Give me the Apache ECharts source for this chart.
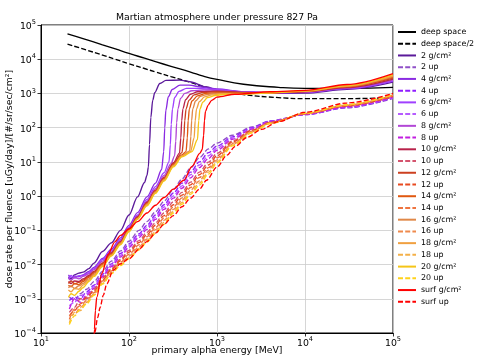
<!DOCTYPE html>
<html>
<head>
<meta charset="utf-8">
<title>Martian atmosphere under pressure 827 Pa</title>
<script src="https://cdn.jsdelivr.net/npm/echarts/dist/echarts.min.js"></script>
<style>
html,body{margin:0;padding:0;background:#fff;}
#main{width:481px;height:358px;}
</style>
</head>
<body>
<div id="main"></div>
<script>
// tick exponents (labels are drawn as 10^n)
var xTickExp = [1, 2, 3, 4, 5];
var yTickExp = [-4, -3, -2, -1, 0, 1, 2, 3, 4, 5];

// black reference curves [MeV, dose]
var deepSpace = [[20,5.5e4],[30,4.0e4],[50,2.63e4],[70,2.0e4],[100,1.48e4],[150,1.07e4],[200,8.5e3],[300,6.2e3],
  [500,4.2e3],[700,3.2e3],[1000,2.57e3],[2000,1.86e3],[5000,1.51e3],[10000,1.41e3],[30000,1.41e3],[100000,1.51e3]];
var deepSpaceHalf = [[20,2.75e4],[30,2.0e4],[50,1.32e4],[70,1.0e4],[100,7.4e3],[150,5.35e3],[200,4.25e3],[300,3.1e3],
  [500,2.1e3],[700,1.6e3],[1000,1.29e3],[2000,930],[5000,755],[10000,705],[30000,705],[100000,755]];

// solid curves (g/cm2)
var g2 = [[20.5,4.4e-3],[22,3.8e-3],[24,5.0e-3],[27,5.6e-3],[30,6.0e-3],[35,7.6e-3],[40,1.1e-2],[50,2.4e-2],[63,4.3e-2],
  [80,0.1],[100,0.28],[125,0.95],[150,2.5],[160,4.0],[166,7.1],[171,32],[177,200],[186,630],[196,1050],[224,1950],
  [263,2400],[380,2450],[490,2200],[760,1550],[1000,1290],[2000,1100],[4000,1000],[10000,1020],[30000,1320],[100000,2140]];
var g4 = [[20.5,5.0e-3],[22,4.2e-3],[24,4.6e-3],[27,4.4e-3],[30,5.0e-3],[35,6.3e-3],[40,8.3e-3],[50,1.5e-2],[63,2.8e-2],
  [80,6.0e-2],[100,0.14],[125,0.33],[160,0.95],[200,2.4],[235,6.0],[248,20],[255,100],[262,320],[280,800],[310,1300],
  [380,1750],[480,1750],[700,1500],[1000,1350],[2000,1120],[4000,1050],[10000,1070],[30000,1380],[100000,2300]];
var g6 = [[20.5,3.8e-3],[22,4.8e-3],[24,4.0e-3],[27,4.7e-3],[30,4.8e-3],[35,5.8e-3],[40,7.6e-3],[50,1.4e-2],[63,2.5e-2],
  [80,5.4e-2],[100,0.126],[125,0.28],[160,0.8],[200,1.9],[250,4.8],[285,10],[295,32],[302,126],[312,355],[330,760],
  [370,1150],[450,1400],[600,1400],[1000,1300],[2000,1120],[4000,1050],[10000,1070],[30000,1400],[100000,2350]];
var g8 = [[20.5,4.0e-3],[22,3.5e-3],[24,4.2e-3],[27,3.8e-3],[30,4.5e-3],[35,5.4e-3],[40,7.1e-3],[50,1.26e-2],[63,2.3e-2],
  [80,5.0e-2],[100,0.117],[125,0.26],[160,0.71],[200,1.66],[250,4.0],[300,8.9],[330,15],[340,40],[348,140],[360,355],
  [385,710],[430,1000],[520,1200],[700,1260],[1000,1230],[2000,1100],[4000,1050],[10000,1100],[30000,1450],[100000,2450]];
var g10 = [[20.5,3.2e-3],[22,2.8e-3],[24,3.3e-3],[27,3.2e-3],[30,3.8e-3],[35,4.8e-3],[40,6.3e-3],[50,1.12e-2],[63,2.2e-2],
  [80,4.7e-2],[100,0.112],[125,0.25],[160,0.66],[200,1.5],[250,3.5],[320,9.5],[375,18],[388,50],[397,160],[410,355],
  [440,660],[500,950],[600,1120],[1000,1170],[2000,1070],[4000,1050],[10000,1120],[30000,1480],[100000,2630]];
var g12 = [[20.5,2.8e-3],[22,3.3e-3],[24,2.75e-3],[27,3.0e-3],[30,3.5e-3],[35,4.5e-3],[40,6.0e-3],[50,1.07e-2],[63,2.1e-2],
  [80,4.5e-2],[100,0.107],[125,0.24],[160,0.63],[200,1.45],[250,3.3],[320,8.9],[400,18.6],[420,50],[430,160],[445,355],
  [480,630],[550,910],[700,1070],[1000,1120],[2000,1050],[4000,1050],[10000,1150],[30000,1550],[100000,2800]];
var g14 = [[20.5,2.5e-3],[22,2.25e-3],[24,2.8e-3],[27,2.6e-3],[30,3.2e-3],[35,4.2e-3],[40,5.6e-3],[50,1.0e-2],[63,2.0e-2],
  [80,4.3e-2],[100,0.105],[125,0.23],[160,0.6],[200,1.38],[250,3.2],[320,8.3],[400,16],[445,20],[460,50],[470,160],
  [485,355],[520,600],[600,850],[750,1000],[1000,1050],[2000,1020],[4000,1050],[10000,1150],[30000,1580],[100000,3000]];
var g16 = [[20.5,2.1e-3],[22,2.4e-3],[24,2.0e-3],[27,2.4e-3],[30,2.8e-3],[35,3.8e-3],[40,5.2e-3],[50,9.5e-3],[63,1.9e-2],
  [80,4.2e-2],[100,0.1],[125,0.22],[160,0.58],[200,1.32],[250,3.0],[320,7.9],[400,15],[490,21],[505,56],[515,160],
  [530,355],[570,600],[650,830],[800,950],[1000,1000],[2000,1000],[4000,1050],[10000,1170],[30000,1620],[100000,3160]];
var g18 = [[20.5,1.8e-3],[22,1.6e-3],[24,2.0e-3],[27,1.9e-3],[30,2.5e-3],[35,3.5e-3],[40,4.8e-3],[50,9.1e-3],[63,1.8e-2],
  [80,4.0e-2],[100,9.5e-2],[125,0.22],[160,0.55],[200,1.26],[250,2.9],[320,7.6],[400,14.8],[500,20],[550,50],[565,160],
  [585,355],[630,575],[720,790],[880,910],[1100,980],[2000,980],[4000,1050],[10000,1170],[30000,1660],[100000,3300]];
var g20 = [[20.5,1.1e-3],[22,1.4e-3],[24,1.26e-3],[27,1.66e-3],[30,2.1e-3],[35,3.2e-3],[40,4.5e-3],[50,8.7e-3],[63,1.8e-2],
  [80,3.8e-2],[100,9.1e-2],[125,0.21],[160,0.52],[200,1.2],[250,2.75],[320,7.2],[400,14],[520,20],[600,45],[620,160],
  [640,355],[690,560],[780,760],[950,870],[1200,930],[2000,950],[4000,1050],[10000,1200],[30000,1700],[100000,3550]];
var surfG = [[39.5,3.2e-5],[40.5,1.3e-4],[41.5,4.5e-4],[43,1.1e-3],[49,5.4e-3],[58,2.0e-2],[69,4.6e-2],[80,7.1e-2],
  [100,0.11],[125,0.18],[160,0.32],[200,0.54],[250,0.91],[320,1.6],[420,2.9],[520,7.4],[640,18],[680,23],[705,60],
  [720,160],[740,300],[790,450],[870,630],[1000,780],[1600,950],[4000,1120],[10000,1230],[30000,1820],[100000,3800]];

// dashed curves (up), shared energies
var upEnergy = [21,24,28,33,40,50,63,80,100,130,160,200,250,320,400,500,630,800,1000,1500,2500,4000,10000,30000,100000];
var up2 = [1.12e-3,8.9e-4,1.41e-3,1.9e-3,3.16e-3,6.3e-3,1.26e-2,2.5e-2,4.8e-2,0.1,0.18,0.35,0.71,1.58,3.16,6.6,13.2,24,35.5,60,105,158,240,380,710];
var up4 = [8.9e-4,1.12e-3,1.0e-3,1.58e-3,2.5e-3,5.2e-3,1.05e-2,2.1e-2,4.0e-2,7.9e-2,0.14,0.28,0.56,1.23,2.4,5.0,10,18.6,29,54,100,155,240,390,740];
var up6 = [6.3e-4,7.9e-4,1.26e-3,1.41e-3,2.24e-3,4.8e-3,9.5e-3,1.86e-2,3.5e-2,7.1e-2,0.123,0.24,0.48,1.02,2.0,4.2,8.1,15.1,25,50,95,151,245,400,760];
var up8 = [5.0e-4,1.0e-3,7.9e-4,1.26e-3,2.0e-3,4.4e-3,8.7e-3,1.66e-2,3.16e-2,6.2e-2,0.107,0.21,0.41,0.87,1.7,3.4,6.8,12.6,21.9,46,91,148,245,410,780];
var up10 = [4.0e-4,5.6e-4,1.0e-3,1.0e-3,1.9e-3,4.0e-3,7.6e-3,1.41e-2,2.6e-2,5.0e-2,8.7e-2,0.166,0.32,0.68,1.29,2.57,5.0,9.8,17.8,41,85,145,250,425,810];
var up12 = [3.16e-4,4.5e-4,7.1e-4,1.12e-3,1.66e-3,3.5e-3,7.1e-3,1.29e-2,2.3e-2,4.4e-2,7.4e-2,0.141,0.27,0.56,1.07,2.14,4.2,8.1,15.1,38,83,141,257,437,830];
var up14 = [2.5e-4,5.0e-4,6.3e-4,8.9e-4,1.51e-3,3.3e-3,6.5e-3,1.17e-2,2.0e-2,3.8e-2,6.5e-2,0.12,0.23,0.48,0.89,1.78,3.5,6.8,13.2,35,79,138,257,447,870];
var up16 = [3.16e-4,3.5e-4,5.6e-4,7.9e-4,1.38e-3,3.0e-3,6.0e-3,1.07e-2,1.78e-2,3.3e-2,5.6e-2,0.105,0.195,0.41,0.76,1.48,2.8,5.75,11.5,33,76,135,263,457,890];
var up18 = [2.0e-4,4.0e-4,4.5e-4,7.9e-4,1.32e-3,2.8e-3,5.6e-3,1.0e-2,1.58e-2,2.95e-2,5.0e-2,9.1e-2,0.17,0.355,0.65,1.26,2.4,5.0,10.2,31,72,135,263,468,910];
var up20 = [1.78e-4,3.16e-4,5.0e-4,7.1e-4,1.26e-3,2.7e-3,5.4e-3,9.3e-3,1.48e-2,2.7e-2,4.5e-2,8.1e-2,0.15,0.32,0.58,1.12,2.1,4.4,9.3,29.5,71,132,263,468,930];
var surfUp = [[40.5,4.0e-5],[41,1.05e-4],[44,2.8e-4],[47,5.6e-4],[51,1.26e-3],[56,2.75e-3],[66,6.8e-3],[80,1.05e-2],
  [100,1.48e-2],[130,2.8e-2],[160,4.7e-2],[200,8.3e-2],[250,0.15],[320,0.27],[400,0.49],[500,0.87],[630,1.58],[760,2.9],
  [1000,7.1],[1300,15.8],[1600,28],[2200,52],[3200,89],[5000,151],[10000,282],[30000,525],[100000,1000]];

function zipUp(vals) {
  var out = [];
  for (var i = 0; i < upEnergy.length; i++) out.push([upEnergy[i], vals[i]]);
  return out;
}

// name, data, color, dashed
var curves = [
  ['deep space', deepSpace, '#000000', false],
  ['deep space/2', deepSpaceHalf, '#000000', true],
  ['2 g/cm²', g2, '#5b1a9a', false],
  ['2 up', zipUp(up2), '#9050c8', true],
  ['4 g/cm²', g4, '#8a2be2', false],
  ['4 up', zipUp(up4), '#8f1cff', true],
  ['6 g/cm²', g6, '#a040ff', false],
  ['6 up', zipUp(up6), '#b65cff', true],
  ['8 g/cm²', g8, '#b247d6', false],
  ['8 up', zipUp(up8), '#c21ee0', true],
  ['10 g/cm²', g10, '#b8224a', false],
  ['10 up', zipUp(up10), '#d4546e', true],
  ['12 g/cm²', g12, '#cc4020', false],
  ['12 up', zipUp(up12), '#e84a20', true],
  ['14 g/cm²', g14, '#e05810', false],
  ['14 up', zipUp(up14), '#ee7440', true],
  ['16 g/cm²', g16, '#e08848', false],
  ['16 up', zipUp(up16), '#ef8a4c', true],
  ['18 g/cm²', g18, '#f0a040', false],
  ['18 up', zipUp(up18), '#f4b048', true],
  ['20 g/cm²', g20, '#f5c518', false],
  ['20 up', zipUp(up20), '#ffd21a', true],
  ['surf g/cm²', surfG, '#ff0000', false],
  ['surf up', surfUp, '#ff0000', true]
];

var FONT = 'DejaVu Sans';

function supLabel(v) {
  var e = Math.round(Math.log(v) / Math.LN10);
  var s = e < 0 ? '\u2212' + (-e) : '' + e;
  return '{b|10}{s|' + s + '}';
}
var tickRich = {
  b: {fontSize: 9.4, fontFamily: FONT, color: '#000', lineHeight: 12, verticalAlign: 'bottom'},
  s: {fontSize: 6.6, fontFamily: FONT, color: '#000', lineHeight: 8, verticalAlign: 'top'}
};

var series = [];
var names = [];
for (var i = 0; i < curves.length; i++) {
  var c = curves[i];
  var isBlack = i < 2;
  names.push(c[0]);
  series.push({
    name: c[0],
    type: 'line',
    data: c[1],
    symbol: 'none',
    showSymbol: false,
    smooth: isBlack ? 0.5 : 0.3,
    smoothMonotone: isBlack ? null : 'x',
    clip: true,
    color: c[2],
    lineStyle: {color: c[2], width: 1.35, type: c[3] ? [5, 2.2] : 'solid'}
  });
}

var chart = echarts.init(document.getElementById('main'));
chart.setOption({
  animation: false,
  backgroundColor: '#ffffff',
  title: {
    text: 'Martian atmosphere under pressure 827 Pa',
    left: 217, top: 13, textAlign: 'center', padding: 0,
    textStyle: {fontSize: 9.3, fontWeight: 'normal', fontFamily: FONT, color: '#000'}
  },
  grid: {left: 41, right: 88, top: 25, bottom: 25, outerBoundsMode: 'none', containLabel: false,
    show: true, borderColor: '#000', borderWidth: 1},
  legend: {
    orient: 'vertical', left: 397, top: 27, padding: 0,
    itemWidth: 18, itemHeight: 10, itemGap: 1.73,
    itemStyle: {opacity: 0},
    textStyle: {fontSize: 7.9, fontFamily: FONT, color: '#000', lineHeight: 10},
    data: names
  },
  xAxis: {
    type: 'log', logBase: 10, min: Math.pow(10, xTickExp[0]), max: Math.pow(10, xTickExp[xTickExp.length - 1]),
    splitNumber: xTickExp.length - 1,
    name: 'primary alpha energy [MeV]', nameLocation: 'middle', nameGap: 13, nameMoveOverlap: false,
    nameTextStyle: {fontSize: 9.3, fontFamily: FONT, color: '#000'},
    axisLine: {show: true, lineStyle: {color: '#000', width: 1}},
    axisTick: {show: true, inside: false, length: 3.5, lineStyle: {color: '#000', width: 0.8}},
    splitLine: {show: true, lineStyle: {color: '#cccccc', width: 0.8}},
    axisLabel: {formatter: supLabel, rich: tickRich, margin: 3}
  },
  yAxis: {
    type: 'log', logBase: 10, min: Math.pow(10, yTickExp[0]), max: Math.pow(10, yTickExp[yTickExp.length - 1]),
    splitNumber: yTickExp.length - 1,
    name: 'dose rate per fluence [uGy/day]/[#/sr/sec/cm²]', nameLocation: 'middle', nameGap: 27, nameRotate: 90,
    nameMoveOverlap: false,
    nameTextStyle: {fontSize: 9.3, fontFamily: FONT, color: '#000'},
    axisLine: {show: true, lineStyle: {color: '#000', width: 1}},
    axisTick: {show: true, inside: false, length: 3.5, lineStyle: {color: '#000', width: 0.8}},
    splitLine: {show: true, lineStyle: {color: '#cccccc', width: 0.8}},
    axisLabel: {formatter: supLabel, rich: tickRich, margin: 5}
  },
  series: series
});
</script>
</body>
</html>
